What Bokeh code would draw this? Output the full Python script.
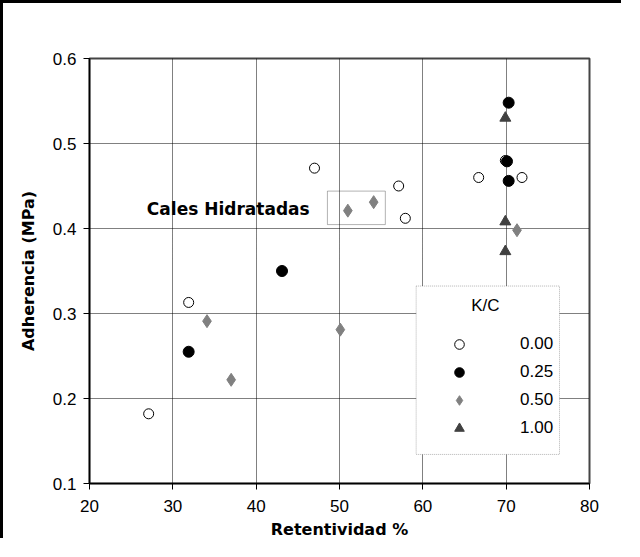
from bokeh.plotting import figure
from bokeh.models import (Legend, LegendItem, BoxAnnotation, Label, FixedTicker,
                          NumeralTickFormatter)
from bokeh.embed import file_html
from bokeh.resources import INLINE

# ---- data ----
x_ticks = [20, 30, 40, 50, 60, 70, 80]
y_ticks = [0.1, 0.2, 0.3, 0.4, 0.5, 0.6]

kc_labels = ["0.00", "0.25", "0.50", "1.00"]

kc000_x = [27.1, 31.9, 47.0, 57.1, 57.9, 66.7, 69.9, 71.9]
kc000_y = [0.182, 0.313, 0.471, 0.450, 0.412, 0.460, 0.480, 0.460]

kc025_x = [31.9, 43.1, 70.1, 70.3, 70.3]
kc025_y = [0.255, 0.350, 0.479, 0.456, 0.548]

kc050_x = [34.1, 37.0, 50.1, 51.0, 54.1, 71.3]
kc050_y = [0.291, 0.222, 0.281, 0.421, 0.431, 0.398]

kc100_x = [69.9, 69.9, 69.9]
kc100_y = [0.530, 0.408, 0.373]

annot_text = "Cales Hidratadas"
legend_title = "K/C"

# ---- figure ----
p = figure(width=621, height=538, x_range=(20, 80), y_range=(0.1, 0.6),
           output_backend="svg", toolbar_location=None,
           min_border_left=86, min_border_right=35, min_border_top=55, min_border_bottom=58,
           background_fill_color="white", border_fill_color="white",
           styles={"border-left": "3px solid black", "border-top": "3px solid black"})

p.outline_line_color = "#444444"
p.outline_line_width = 2

for ax in (p.xaxis[0], p.yaxis[0]):
    ax.axis_line_color = "black"
    ax.axis_line_width = 1.5
    ax.major_tick_line_color = "black"
    ax.major_tick_in = 0
    ax.major_tick_out = 6
    ax.minor_tick_line_color = None
    ax.major_label_text_font = "Liberation Sans"
    ax.major_label_text_font_size = "17px"
    ax.major_label_text_color = "black"
    ax.axis_label_text_font = "DejaVu Sans"
    ax.axis_label_text_font_style = "bold"
    ax.axis_label_text_font_size = "16px"
    ax.axis_label_text_color = "black"

p.xaxis.ticker = FixedTicker(ticks=x_ticks, minor_ticks=[])
p.yaxis.ticker = FixedTicker(ticks=y_ticks, minor_ticks=[])
p.xaxis.formatter = NumeralTickFormatter(format="0")
p.yaxis.formatter = NumeralTickFormatter(format="0.0")
p.xaxis.major_label_standoff = 10
p.yaxis.major_label_standoff = 7
p.xaxis.axis_label = "Retentividad %"
p.yaxis.axis_label = "Adherencia (MPa)"
p.xaxis.axis_label_standoff = 5
p.yaxis.axis_label_standoff = 12

p.xgrid.ticker = FixedTicker(ticks=x_ticks, minor_ticks=[])
p.ygrid.ticker = FixedTicker(ticks=y_ticks, minor_ticks=[])
p.grid.grid_line_color = "black"
p.grid.grid_line_width = 1
p.grid.grid_line_dash = "1 1"

# ---- data marks ----
r0 = p.scatter(kc000_x, kc000_y, marker="circle", size=10, fill_color="white",
               line_color="black", line_width=1)
r1 = p.scatter(kc025_x, kc025_y, marker="circle", size=11, fill_color="black",
               line_color="black", line_width=1)
r2 = p.scatter(kc050_x, kc050_y, marker="diamond", size=13, fill_color="#808080",
               line_color="#808080", line_width=1)
r3 = p.scatter(kc100_x, kc100_y, marker="triangle", size=11, fill_color="#404040",
               line_color="#404040", line_width=1)

# ---- annotation ----
cales_box = BoxAnnotation(left=48.55, right=55.5, top=0.444, bottom=0.4046,
                          fill_alpha=0, line_color="black", line_width=1)
p.add_layout(cales_box)
p.add_layout(Label(x=36.65, y=0.423, text=annot_text, text_align="center",
                   text_baseline="middle", text_font="DejaVu Sans", text_font_style="bold",
                   text_font_size="17px", text_color="black"))

# ---- legend ----
legend_box = BoxAnnotation(left=59.2, right=76.4, top=0.3323, bottom=0.1342,
                           fill_color="white", fill_alpha=1, line_color="black",
                           line_width=1, line_dash="1 1")
p.add_layout(legend_box)
p.add_layout(Label(x=67.5, y=0.310, text=legend_title, text_align="center",
                   text_baseline="middle", text_font="Liberation Sans",
                   text_font_size="17px", text_color="black"))

legend = Legend(items=[LegendItem(label=lab, renderers=[r])
                       for lab, r in zip(kc_labels, [r0, r1, r2, r3])],
                location=(350, 43), padding=0, margin=0, spacing=4,
                glyph_width=40, glyph_height=24, label_height=24, label_standoff=41,
                label_text_font="Liberation Sans", label_text_font_size="17px",
                label_text_color="black", border_line_alpha=0, background_fill_alpha=0)
p.add_layout(legend)

open("out.html", "w").write(file_html(p, INLINE))
